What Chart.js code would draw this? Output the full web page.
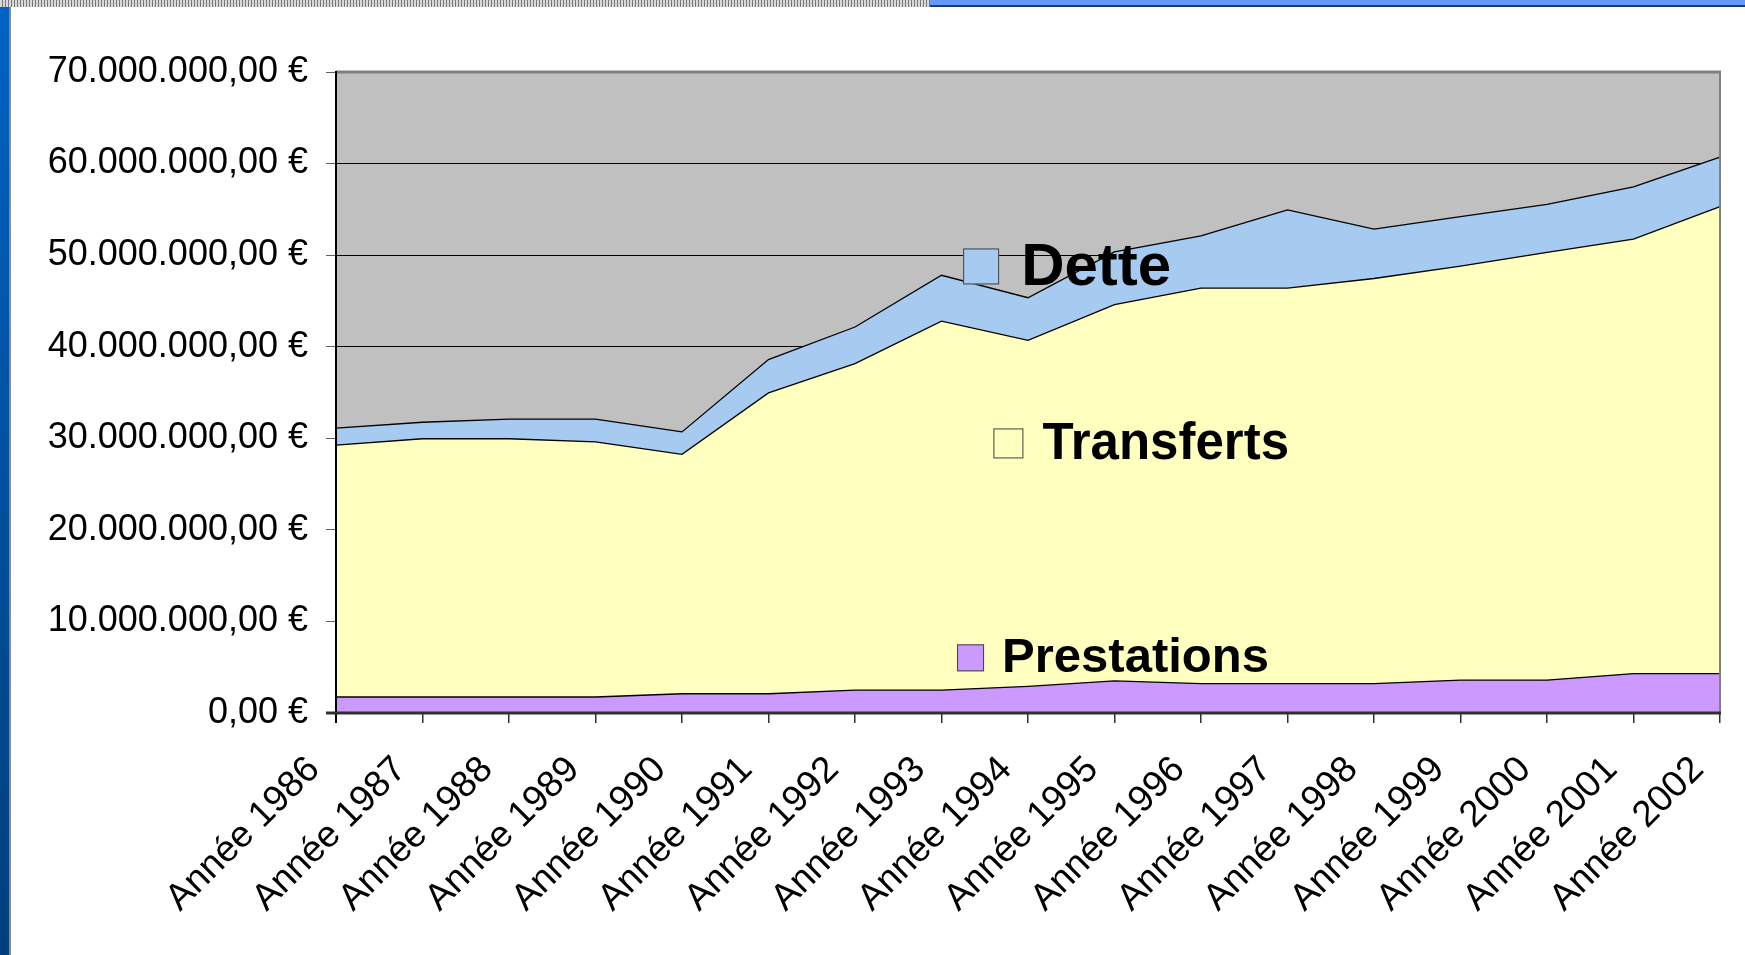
<!DOCTYPE html>
<html>
<head>
<meta charset="utf-8">
<script src="https://cdn.jsdelivr.net/npm/chart.js"></script>
<style>
  html, body { margin: 0; padding: 0; background: #fff; }
  #page { position: relative; width: 1745px; height: 955px; overflow: hidden; background: #fff; }
  #wrap { position: absolute; left: 0; top: 0; width: 1745px; height: 955px; }
  .hatch { position: absolute; left: 0; top: 0; width: 930px; height: 7px;
    background: repeating-linear-gradient(90deg, #d8d8d8 0px, #d8d8d8 2px, #7a7a7a 2px, #7a7a7a 3px); }
  .topbar { position: absolute; left: 930px; top: 0; width: 815px; height: 5px; background: #6699ff;
    border-bottom: 2px solid #203c70; }
  .leftbar { position: absolute; left: 0; top: 7px; width: 9px; height: 948px;
    background: linear-gradient(180deg, #0062c4 0%, #00509e 50%, #003f7c 100%);
    border-right: 2px solid #8a8a8a; }
</style>
</head>
<body>
<div id="page">
  <div id="wrap"><canvas id="AreaChart"></canvas></div>
  <div class="hatch"></div>
  <div class="topbar"></div>
  <div class="leftbar"></div>
</div>
<script>
// data (euros)
const years = ['Année 1986', 'Année 1987', 'Année 1988', 'Année 1989', 'Année 1990', 'Année 1991',
    'Année 1992', 'Année 1993', 'Année 1994', 'Année 1995', 'Année 1996', 'Année 1997',
    'Année 1998', 'Année 1999', 'Année 2000', 'Année 2001', 'Année 2002'];
const prestations = [1750000, 1750000, 1750000, 1750000, 2100000, 2100000, 2500000, 2500000, 2900000,
    3500000, 3200000, 3200000, 3200000, 3600000, 3600000, 4300000, 4300000];
const transferts = [27500000, 28200000, 28200000, 27850000, 26150000, 32850000, 35650000, 40300000, 37800000,
    41100000, 43200000, 43200000, 44250000, 45200000, 46700000, 47450000, 51000000];
const dette = [1850000, 1800000, 2150000, 2500000, 2450000, 3650000, 4000000, 5000000, 4650000,
    5750000, 5700000, 8550000, 5400000, 5400000, 5250000, 5700000, 5400000];
const yMax = 70000000;
const yStep = 10000000;

const FONT = "'Liberation Sans', Arial, sans-serif";

function euro(v) {
    var s = Math.round(v).toString().replace(/\B(?=(\d{3})+(?!\d))/g, '.');
    return s + ',00 €';
}

// legend labels drawn inside the plot (position in category index / value units, box bottom-left)
const labelBoxes = [
    { text: 'Dette', color: '#a6caf0', box: 36, size: 60, at: 7.25, val: 46800000, gap: 22 },
    { text: 'Transferts', color: '#ffffc0', box: 30, size: 51, at: 7.6, val: 27800000, gap: 19 },
    { text: 'Prestations', color: '#cc99ff', box: 27, size: 49, at: 7.18, val: 4550000, gap: 18 }
];

const plotBackground = {
    id: 'plotBackground',
    beforeDraw(chart) {
        const a = chart.chartArea;
        const ctx = chart.ctx;
        ctx.save();
        ctx.fillStyle = '#c0c0c0';
        ctx.fillRect(a.left, a.top, a.right - a.left, a.bottom - a.top);
        ctx.restore();
    }
};

const plotFrame = {
    id: 'plotFrame',
    afterDatasetsDraw(chart) {
        const a = chart.chartArea;
        const ctx = chart.ctx;
        ctx.save();
        ctx.strokeStyle = '#808080';
        ctx.lineWidth = 3;
        ctx.beginPath(); ctx.moveTo(a.left, a.top); ctx.lineTo(a.right + 1, a.top); ctx.stroke();
        ctx.lineWidth = 2;
        ctx.beginPath(); ctx.moveTo(a.right, a.top); ctx.lineTo(a.right, a.bottom); ctx.stroke();
        ctx.strokeStyle = '#000';
        ctx.beginPath(); ctx.moveTo(a.left, a.top - 1); ctx.lineTo(a.left, a.bottom + 10); ctx.stroke();
        ctx.strokeStyle = '#303030';
        ctx.lineWidth = 3;
        ctx.beginPath(); ctx.moveTo(a.left - 10, a.bottom); ctx.lineTo(a.right + 1, a.bottom); ctx.stroke();

        // in-plot legend
        const x = chart.scales.x, y = chart.scales.y;
        labelBoxes.forEach(function (l) {
            const px = x.getPixelForValue(l.at);
            const py = y.getPixelForValue(l.val);
            ctx.fillStyle = l.color;
            ctx.fillRect(px, py - l.box, l.box, l.box);
            ctx.strokeStyle = '#404040';
            ctx.lineWidth = 1;
            ctx.strokeRect(px + 0.5, py - l.box + 0.5, l.box - 1, l.box - 1);
            ctx.fillStyle = '#000';
            ctx.font = 'bold ' + l.size + 'px ' + FONT;
            ctx.textBaseline = 'alphabetic';
            ctx.textAlign = 'left';
            ctx.fillText(l.text, px + l.box + l.gap, py + 1);
        });
        ctx.restore();
    }
};

function series(label, data, color, fill) {
    return {
        label: label,
        data: data,
        backgroundColor: color,
        borderColor: '#000',
        borderWidth: 1.3,
        fill: fill,
        tension: 0,
        pointRadius: 0
    };
}

new Chart(document.getElementById('AreaChart'), {
    type: 'line',
    data: {
        labels: years,
        datasets: [
            series('Prestations', prestations, '#cc99ff', 'origin'),
            series('Transferts', transferts, '#ffffc0', '-1'),
            series('Dette', dette, '#a6caf0', '-1')
        ]
    },
    options: {
        responsive: true,
        maintainAspectRatio: false,
        animation: false,
        layout: { padding: { top: 72, right: 25, left: 0, bottom: 0 } },
        plugins: {
            legend: { display: false },
            tooltip: { enabled: false }
        },
        scales: {
            x: {
                offset: false,
                border: { display: false },
                grid: { drawOnChartArea: false, offset: false, tickLength: 10, color: '#303030', lineWidth: 1.5 },
                ticks: {
                    minRotation: 45, maxRotation: 45, autoSkip: false, padding: 25, labelOffset: -22,
                    color: '#000', font: { family: FONT, size: 37 }
                },
                afterFit(scale) {
                    scale.height = 242;
                    scale.paddingLeft = 0;
                    scale.paddingRight = 0;
                }
            },
            y: {
                stacked: true,
                min: 0, max: yMax,
                border: { display: false },
                grid: { color: '#000', lineWidth: 1, tickLength: 10, tickColor: '#606060' },
                ticks: {
                    stepSize: yStep, padding: 18, color: '#000',
                    font: { family: FONT, size: 36 },
                    callback: function (v) { return euro(v); }
                },
                afterFit(scale) { scale.width = 336; }
            }
        }
    },
    plugins: [plotBackground, plotFrame]
});
</script>
</body>
</html>
